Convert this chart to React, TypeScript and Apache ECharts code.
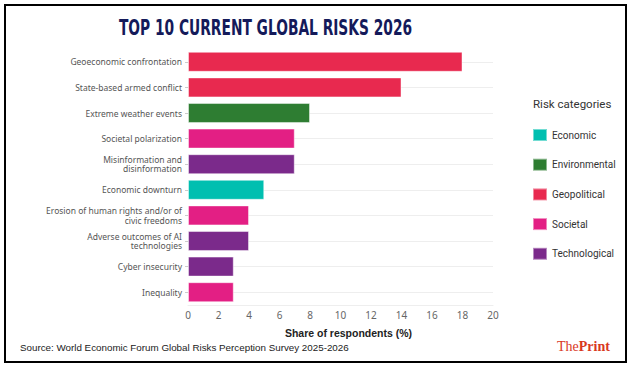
import React, { useEffect, useRef } from "react";
import * as echarts from "echarts";

const risks = [
  "Geoeconomic confrontation",
  "State-based armed conflict",
  "Extreme weather events",
  "Societal polarization",
  "Misinformation and\ndisinformation",
  "Economic downturn",
  "Erosion of human rights and/or of\ncivic freedoms",
  "Adverse outcomes of AI\ntechnologies",
  "Cyber insecurity",
  "Inequality",
];
const shares = [18, 14, 8, 7, 7, 5, 4, 4, 3, 3];
const riskCategory = [
  "Geopolitical",
  "Geopolitical",
  "Environmental",
  "Societal",
  "Technological",
  "Economic",
  "Societal",
  "Technological",
  "Technological",
  "Societal",
];
const categories = ["Economic", "Environmental", "Geopolitical", "Societal", "Technological"];
const categoryColors = ["#00bfb0", "#2e7d32", "#e8294f", "#e31f84", "#7b2a8b"];
const xTicks = [0, 20, 2];

export default function App() {
  const ref = useRef<HTMLDivElement>(null);
  useEffect(() => {
    const chart = echarts.init(ref.current!, null, { renderer: "svg" });
    const series = categories.map((cat, ci) => ({
      name: cat,
      type: "bar",
      stack: "all",
      barCategoryGap: "22%",
      itemStyle: {
        color: categoryColors[ci],
        borderColor: "rgba(255,255,255,0.45)",
        borderWidth: 1,
      },
      data: shares.map((v, i) => (riskCategory[i] === cat ? v : "-")),
    }));
    chart.setOption({
      animation: false,
      backgroundColor: "#ffffff",
      grid: { left: 188, right: 138, top: 49, bottom: 63, containLabel: false },
      xAxis: {
        type: "value",
        min: xTicks[0],
        max: xTicks[1],
        interval: xTicks[2],
        name: "Share of respondents (%)",
        nameLocation: "middle",
        nameGap: 22,
        nameTextStyle: {
          color: "#222",
          fontWeight: "bold",
          fontSize: 10.5,
          fontFamily: "Liberation Sans",
          padding: [0, 0, 0, 16],
        },
        axisLine: { show: true, lineStyle: { color: "#eeeeee" } },
        axisTick: { show: false },
        splitLine: { show: false },
        axisLabel: { color: "#666", fontSize: 10, fontFamily: "Noto Sans", margin: 5 },
      },
      yAxis: {
        type: "category",
        inverse: true,
        data: risks,
        axisLine: { show: false },
        axisTick: { show: true, alignWithLabel: true, length: 3, lineStyle: { color: "#cccccc" } },
        splitLine: { show: true, alignWithLabel: true, lineStyle: { color: "#eeeeee" } },
        axisLabel: {
          color: "#555",
          fontSize: 8.5,
          fontFamily: "Noto Sans",
          lineHeight: 9.5,
          margin: 6,
          align: "right",
        },
      },
      legend: {
        orient: "vertical",
        left: 532,
        top: 128,
        padding: 0,
        itemWidth: 14,
        itemHeight: 12,
        itemGap: 15.7,
        icon: "rect",
        data: categories,
        textStyle: { color: "#333", fontSize: 10, fontFamily: "Roboto" },
      },
      graphic: [
        {
          type: "text",
          x: 265.5,
          y: 28,
          scaleX: 0.73,
          style: {
            text: "TOP 10 CURRENT GLOBAL RISKS 2026",
            fill: "#141a5a",
            font: "bold 21px 'DejaVu Sans Condensed'",
            textAlign: "center",
            textVerticalAlign: "middle",
          },
        },
        {
          type: "text",
          x: 533,
          y: 104,
          style: {
            text: "Risk categories",
            fill: "#333",
            font: "11.5px Roboto",
            textVerticalAlign: "middle",
          },
        },
        {
          type: "text",
          x: 20,
          y: 347,
          style: {
            text: "Source: World Economic Forum Global Risks Perception Survey 2025-2026",
            fill: "#222",
            font: "9.8px 'Liberation Sans'",
            textVerticalAlign: "middle",
          },
        },
        {
          type: "text",
          x: 557,
          y: 346,
          style: {
            text: "{a|The}{b|Print}",
            textVerticalAlign: "middle",
            rich: {
              a: { fill: "#d9381e", font: "14px 'Liberation Serif'" },
              b: { fill: "#d9381e", font: "bold 14px 'Liberation Serif'" },
            },
          },
        },
        {
          type: "rect",
          shape: { x: 616, y: 330, width: 9, height: 30 },
          style: { fill: "#ffffff" },
          z: 100,
        },
        {
          type: "rect",
          shape: { x: 5, y: 5, width: 621, height: 357 },
          style: { fill: "none", stroke: "#000", lineWidth: 2 },
          z: 101,
        },
      ],
      series,
    });
    return () => chart.dispose();
  }, []);
  return (
    <div
      ref={ref}
      style={{ width: 631, height: 368, position: "fixed", left: 0, top: 0 }}
    />
  );
}
